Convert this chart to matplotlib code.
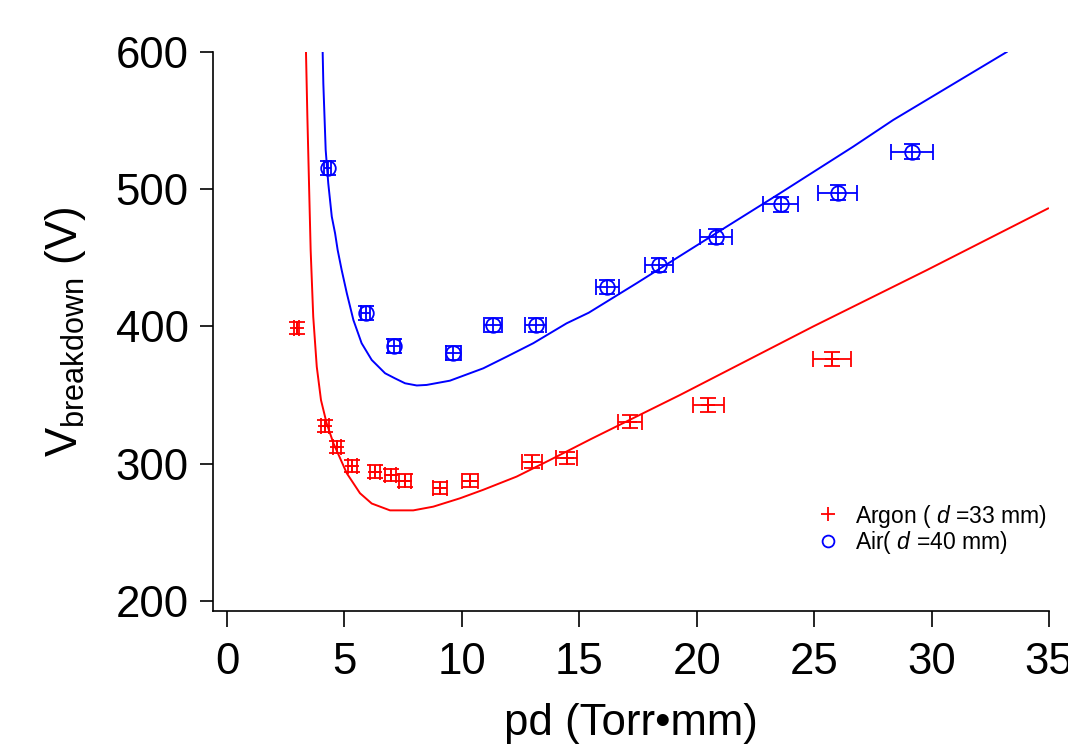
import matplotlib
matplotlib.use("Agg")
import matplotlib.pyplot as plt
from matplotlib.lines import Line2D

plt.rcParams['font.family'] = ['Liberation Sans', 'DejaVu Sans']
plt.rcParams['mathtext.fontset'] = 'custom'
plt.rcParams['mathtext.rm'] = 'Liberation Sans'
plt.rcParams['mathtext.it'] = 'Liberation Sans:italic'

# --- Measured breakdown voltages ---
argon_pd = [2.97, 4.17, 4.67, 5.33, 6.30, 6.97, 7.58, 9.07, 10.34, 12.97, 14.46, 17.16, 20.49, 25.77]
argon_v = [398.7, 327.7, 312.4, 298.4, 294.2, 291.8, 287.7, 282.1, 287.7, 301.5, 304.0, 330.6, 342.8, 376.1]
argon_pd_err = [0.10, 0.15, 0.17, 0.19, 0.22, 0.24, 0.26, 0.30, 0.33, 0.43, 0.45, 0.50, 0.67, 0.82]
argon_v_err = [4.5, 4.5, 4.5, 4.5, 4.5, 4.5, 4.5, 4.5, 4.5, 4.5, 4.5, 4.8, 4.8, 5.0]

air_pd = [4.29, 5.90, 7.12, 9.64, 11.34, 13.15, 16.19, 18.39, 20.82, 23.58, 26.00, 29.17]
air_v = [515.3, 410.0, 386.0, 380.5, 401.1, 401.1, 429.0, 444.8, 465.4, 489.0, 497.5, 527.4]
air_pd_err = [0.15, 0.20, 0.25, 0.33, 0.38, 0.45, 0.50, 0.58, 0.67, 0.75, 0.82, 0.91]
air_v_err = [5.0, 5.0, 5.0, 5.0, 5.0, 5.0, 5.2, 5.2, 5.3, 5.4, 5.5, 5.5]

# --- Paschen fit curves ---
argon_fit_pd = [3.36, 3.42, 3.49, 3.56, 3.67, 3.82, 4.00, 4.24, 4.53, 5.10, 5.66, 6.16,
                6.94, 7.93, 8.78, 9.92, 10.91, 12.33, 13.75, 15.50, 19.28, 24.96, 29.79, 34.96]
argon_fit_v = [601, 552.9, 504.3, 455.7, 407.1, 370.7, 346.4, 329.5, 314.9, 293, 278.5, 271,
               266, 266, 268.7, 274.8, 281, 290.6, 302.7, 318, 350, 400, 441, 486]
air_fit_pd = [4.07, 4.10, 4.20, 4.31, 4.46, 4.60, 4.71, 4.88, 5.10, 5.38, 5.73, 6.16, 6.73,
              7.15, 7.58, 8.08, 8.50, 9.49, 10.91, 11.91, 13.04, 14.46, 15.40, 17.44,
              21.27, 23.54, 26.66, 28.37, 33.20]
air_fit_v = [601, 577, 528.6, 504.3, 480, 467.9, 455.7, 441.2, 424.2, 404.7, 387.8, 375.6, 365.9,
             362.2, 358.6, 357, 357.4, 360.5, 369.5, 378, 387.8, 402.3, 410, 431.5,
             472.7, 497, 531, 550.5, 600]

fig = plt.figure(figsize=(10.68, 7.48), dpi=100)
ax = fig.add_axes([0.1994, 0.1832, 0.7828, 0.7473])

ax.plot(argon_fit_pd, argon_fit_v, color='red', lw=1.4)
ax.plot(air_fit_pd, air_fit_v, color='blue', lw=1.4)

ax.errorbar(argon_pd, argon_v, xerr=argon_pd_err, yerr=argon_v_err, fmt='+',
            color='red', ms=10, mew=1.3, elinewidth=1.3, capsize=6, capthick=1.3)
ax.errorbar(air_pd, air_v, xerr=air_pd_err, yerr=air_v_err, fmt='o', mfc='none',
            mec='blue', color='blue', ms=10.5, mew=1.3, elinewidth=1.3, capsize=6, capthick=1.3)

ax.set_xlim(-0.6, 35)
ax.set_ylim(192.7, 600)
ax.set_xticks(range(0, 36, 5))
ax.set_yticks([200, 300, 400, 500, 600])
for s in ['top', 'right']:
    ax.spines[s].set_visible(False)
for s in ['left', 'bottom']:
    ax.spines[s].set_linewidth(1.2)
ax.tick_params(direction='out', width=1.2, labelsize=31.5)
ax.tick_params(axis='x', length=11.5, pad=11)
ax.tick_params(axis='y', length=9.5, pad=8)

ax.set_xlabel('pd (Torr•mm)', fontsize=31.5, labelpad=14)
ax.set_ylabel(r'V$_{\mathrm{breakdown}}$ (V)', fontsize=31.5, labelpad=20)

handles = [Line2D([], [], ls='none', marker='+', color='red', ms=10, mew=1.3),
           Line2D([], [], ls='none', marker='o', mfc='none', mec='blue', ms=8.5, mew=1.3)]
labels = ['Argon ( $d$ =33 mm)', 'Air( $d$ =40 mm)']
ax.legend(handles, labels, loc='center left', bbox_to_anchor=(816.5 / 1068, 1 - 529.5 / 748),
          bbox_transform=fig.transFigure, frameon=False, fontsize=16.5, handlelength=1.0,
          handletextpad=0.67, borderpad=0, borderaxespad=0, labelspacing=0.0)

fig.savefig('out.png', dpi=100)
